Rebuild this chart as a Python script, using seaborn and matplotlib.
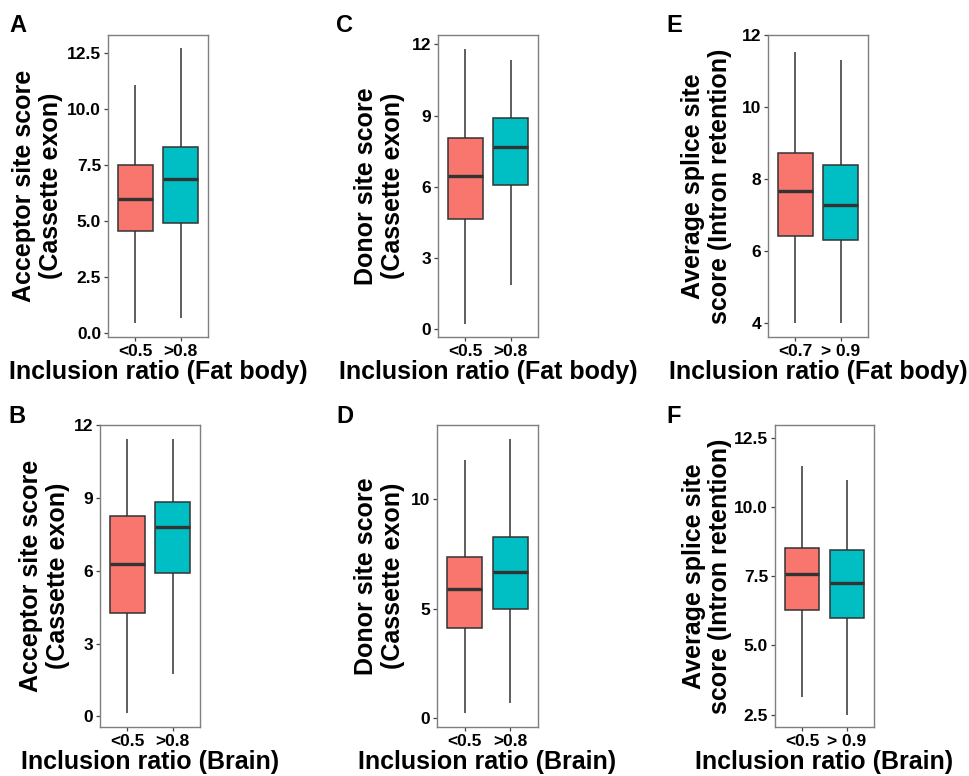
import numpy as np
import pandas as pd
import matplotlib
matplotlib.use("Agg")
import matplotlib.pyplot as plt
import seaborn as sns

# five-number summaries: [min, Q1, median, Q3, max]
groups_exon = ["<0.5", ">0.8"]
groups_intron_fat = ["<0.7", "> 0.9"]
groups_intron_brain = ["<0.5", "> 0.9"]

acceptor_fat_low = [0.45, 4.55, 6.00, 7.51, 11.09]
acceptor_fat_high = [0.67, 4.91, 6.88, 8.32, 12.72]
donor_fat_low = [0.24, 4.64, 6.45, 8.07, 11.80]
donor_fat_high = [1.85, 6.06, 7.67, 8.88, 11.34]
intron_fat_low = [4.00, 6.41, 7.68, 8.74, 11.54]
intron_fat_high = [4.00, 6.31, 7.28, 8.39, 11.31]

acceptor_brain_low = [0.14, 4.25, 6.28, 8.26, 11.43]
acceptor_brain_high = [1.76, 5.91, 7.79, 8.82, 11.43]
donor_brain_low = [0.23, 4.12, 5.91, 7.35, 11.77]
donor_brain_high = [0.68, 4.99, 6.68, 8.29, 12.75]
intron_brain_low = [3.13, 6.30, 7.57, 8.54, 11.49]
intron_brain_high = [2.50, 5.99, 7.27, 8.44, 10.98]

colors = ["#F8766D", "#00BFC4"]

sns.set_style("white")
plt.rcParams["font.family"] = ["Liberation Sans", "DejaVu Sans"]
plt.rcParams["font.weight"] = "bold"
plt.rcParams["text.color"] = "black"
plt.rcParams["axes.labelcolor"] = "black"

W, H = 970, 776
fig = plt.figure(figsize=(9.7, 7.76), dpi=100)


def px_axes(x0, y0, x1, y1):
    # axes from pixel box (top-left origin)
    return fig.add_axes([x0 / W, 1 - y1 / H, (x1 - x0) / W, (y1 - y0) / H])


panels = [
    # letter, box px, groups, low, high, ylabel, xlabel, yticks, fmt, ylim, ylabel x, letter pos
    ("A", (108, 35, 208, 337), groups_exon, acceptor_fat_low, acceptor_fat_high,
     "Acceptor site score\n(Cassette exon)", "Inclusion ratio (Fat body)",
     [0, 2.5, 5, 7.5, 10, 12.5], "{:.1f}", (-0.17, 13.32), -0.45, (9, 32)),
    ("C", (438, 35, 538, 337), groups_exon, donor_fat_low, donor_fat_high,
     "Donor site score\n(Cassette exon)", "Inclusion ratio (Fat body)",
     [0, 3, 6, 9, 12], "{:.0f}", (-0.32, 12.39), -0.33, (336, 32)),
    ("E", (768, 35, 868, 337), groups_intron_fat, intron_fat_low, intron_fat_high,
     "Average splice site\nscore (Intron retention)", "Inclusion ratio (Fat body)",
     [4, 6, 8, 10, 12], "{:.0f}", (3.61, 12.01), -0.36, (666, 32)),
    ("B", (100, 425, 200, 727), groups_exon, acceptor_brain_low, acceptor_brain_high,
     "Acceptor site score\n(Cassette exon)", "Inclusion ratio (Brain)",
     [0, 3, 6, 9, 12], "{:.0f}", (-0.44, 12.01), -0.30, (8, 423)),
    ("D", (437, 425, 538, 727), groups_exon, donor_brain_low, donor_brain_high,
     "Donor site score\n(Cassette exon)", "Inclusion ratio (Brain)",
     [0, 5, 10], "{:.0f}", (-0.41, 13.39), -0.32, (336, 423)),
    ("F", (775, 425, 874, 727), groups_intron_brain, intron_brain_low, intron_brain_high,
     "Average splice site\nscore (Intron retention)", "Inclusion ratio (Brain)",
     [2.5, 5, 7.5, 10, 12.5], "{:.1f}", (2.05, 12.98), -0.43, (666, 423)),
]

for letter, box, groups, low, high, ylab, xlab, yticks, fmt, ylim, ylx, lpos in panels:
    ax = px_axes(*box)
    df = pd.DataFrame({
        "group": [groups[0]] * len(low) + [groups[1]] * len(high),
        "score": low + high,
    })
    sns.boxplot(data=df, x="group", y="score", hue="group", palette=colors,
                order=groups, hue_order=groups, whis=np.inf, showfliers=False,
                showcaps=False, width=0.77, saturation=1, linewidth=1.1,
                linecolor="#333333",
                medianprops={"linewidth": 2.4, "color": "#333333"},
                legend=False, ax=ax)
    ax.set_xlim(-0.6, 1.6)
    ax.set_ylim(*ylim)
    ax.set_yticks(yticks)
    ax.set_yticklabels([fmt.format(t) for t in yticks])
    ax.set_xticks([0, 1])
    ax.set_xticklabels(groups)
    ax.tick_params(axis="both", which="both", length=3, width=0.9, color="#444444",
                   labelsize=12.5, labelcolor="black", pad=2, left=True, bottom=True)
    for lab in ax.get_xticklabels() + ax.get_yticklabels():
        lab.set_fontweight("bold")
    for sp in ax.spines.values():
        sp.set_visible(True)
        sp.set_color("#7f7f7f")
        sp.set_linewidth(1.0)
    ax.grid(False)
    ax.set_ylabel(ylab, fontsize=18, fontweight="bold", linespacing=1.15, color="black")
    ax.set_xlabel(xlab, fontsize=18, fontweight="bold", color="black")
    ax.yaxis.set_label_coords(ylx, 0.5)
    ax.xaxis.set_label_coords(0.5, -0.075)
    fig.text(lpos[0] / W, 1 - lpos[1] / H, letter, fontsize=17, fontweight="bold",
             ha="left", va="baseline", color="black")

fig.savefig("out.png", dpi=100, facecolor="white")
